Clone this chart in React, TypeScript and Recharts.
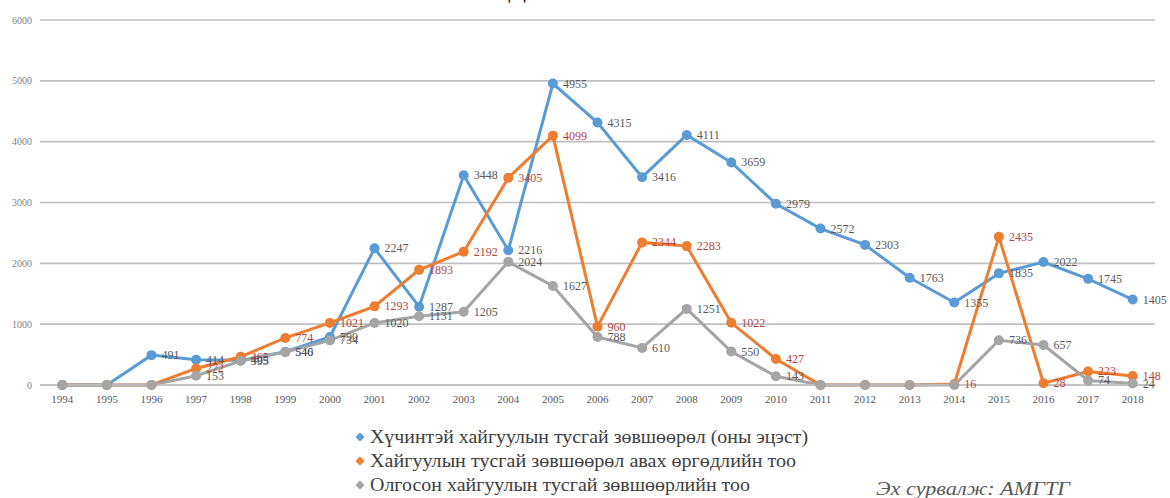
import React from 'react';
import { LineChart, Line, XAxis, YAxis, CartesianGrid, LabelList } from 'recharts';

const years = ['1994', '1995', '1996', '1997', '1998', '1999', '2000', '2001', '2002', '2003', '2004', '2005', '2006', '2007', '2008', '2009', '2010', '2011', '2012', '2013', '2014', '2015', '2016', '2017', '2018'];
const activeLicenses = [0, 0, 491, 414, 405, 546, 790, 2247, 1287, 3448, 2216, 4955, 4315, 3416, 4111, 3659, 2979, 2572, 2303, 1763, 1355, 1835, 2022, 1745, 1405];
const applications = [0, 0, 0, 272, 465, 774, 1021, 1293, 1893, 2192, 3405, 4099, 960, 2344, 2283, 1022, 427, 0, 0, 0, 16, 2435, 28, 223, 148];
const granted = [0, 0, 0, 153, 395, 540, 734, 1020, 1131, 1205, 2024, 1627, 788, 610, 1251, 550, 143, 0, 0, 0, 0, 736, 657, 74, 24];
const yTicks = [0, 1000, 2000, 3000, 4000, 5000, 6000];

const seriesNames = [
  'Хүчинтэй хайгуулын тусгай зөвшөөрөл (оны эцэст)',
  'Хайгуулын тусгай зөвшөөрөл авах өргөдлийн  тоо',
  'Олгосон хайгуулын тусгай зөвшөөрлийн тоо',
];
const seriesColors = ['#5b9bd5', '#ed7d31', '#a5a5a5'];
const legendWidths = [438, 426, 380];
const sourceText = 'Эх сурвалж: АМГТГ';

const data = years.map((y, i) => ({
  year: y,
  active: activeLicenses[i],
  apps: applications[i],
  granted: granted[i],
}));

const FONT = "'Liberation Serif', 'Times New Roman', serif";

const makeLabel = (color: string) => (props: any) => {
  const { x, y, value } = props;
  if (!value) return null;
  return (
    <text x={x + 10} y={y} dy={4} fill={color} style={{ fontSize: 12, fontFamily: FONT }}>
      {value}
    </text>
  );
};

export default function App() {
  return (
    <div style={{ position: 'absolute', left: 0, top: 0, width: 1170, height: 498, background: '#fff', overflow: 'hidden' }}>
      <LineChart width={1170} height={498} data={data} margin={{ top: 20, right: 15, left: 0, bottom: 93 }}>
        <CartesianGrid vertical={false} stroke="#bfbfbf" strokeWidth={1.6} />
        <XAxis
          dataKey="year"
          scale="band"
          tickLine={false}
          axisLine={{ stroke: '#bfbfbf', strokeWidth: 1.6 }}
          tick={{ fontSize: 11, fill: '#595959', fontFamily: FONT }}
          tickSize={8}
          height={20}
          interval={0}
        />
        <YAxis
          domain={[0, 6000]}
          ticks={yTicks}
          width={40}
          axisLine={false}
          tickLine={false}
          tick={{ fontSize: 10, fill: '#7f7f7f', fontFamily: FONT }}
        />
        <Line dataKey="active" stroke={seriesColors[0]} strokeWidth={3} dot={{ r: 5, fill: seriesColors[0], stroke: seriesColors[0], strokeWidth: 0 }} isAnimationActive={false}>
          <LabelList dataKey="active" content={makeLabel('#595959')} />
        </Line>
        <Line dataKey="apps" stroke={seriesColors[1]} strokeWidth={3} dot={{ r: 5, fill: seriesColors[1], stroke: seriesColors[1], strokeWidth: 0 }} isAnimationActive={false}>
          <LabelList dataKey="apps" content={makeLabel('#b5443f')} />
        </Line>
        <Line dataKey="granted" stroke={seriesColors[2]} strokeWidth={3} dot={{ r: 5, fill: seriesColors[2], stroke: seriesColors[2], strokeWidth: 0 }} isAnimationActive={false}>
          <LabelList dataKey="granted" content={makeLabel('#595959')} />
        </Line>
      </LineChart>
      <svg width={1170} height={498} style={{ position: 'absolute', left: 0, top: 0, pointerEvents: 'none' }}>
        <text x={517} y={-2} textAnchor="middle" fill="#222" style={{ fontSize: 26, fontFamily: FONT }}>Д</text>
        {seriesNames.map((n, i) => {
          const cy = 437 + i * 24;
          return (
            <g key={n}>
              <path d={`M 360 ${cy - 4.5} L 364.5 ${cy} L 360 ${cy + 4.5} L 355.5 ${cy} Z`} fill={seriesColors[i]} />
              <text x={370} y={cy + 6} fill="#404040" style={{ fontSize: 18, fontFamily: FONT }} textLength={legendWidths[i]} lengthAdjust="spacingAndGlyphs">
                {n}
              </text>
            </g>
          );
        })}
        <text x={876} y={495} fill="#595959" style={{ fontSize: 19, fontStyle: 'italic', fontFamily: FONT }} textLength={194} lengthAdjust="spacingAndGlyphs">
          {sourceText}
        </text>
      </svg>
    </div>
  );
}
